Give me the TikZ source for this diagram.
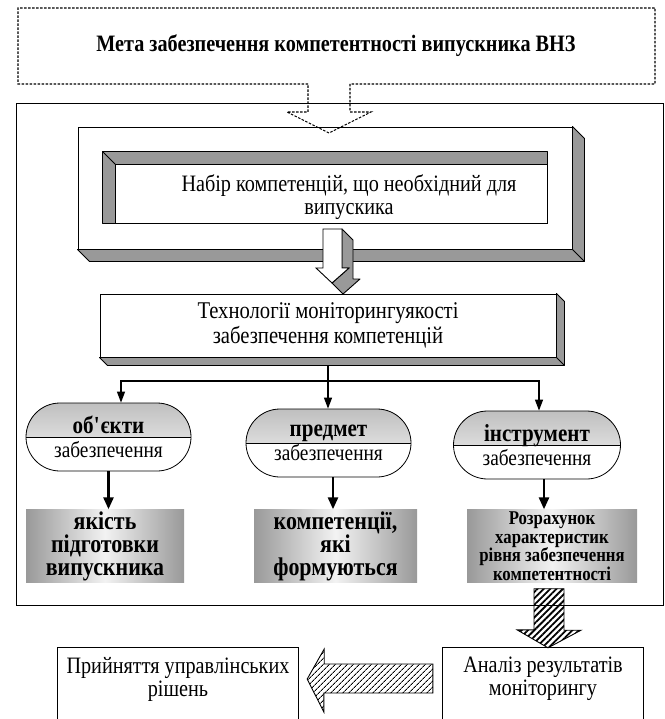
\documentclass[tikz,border=0pt]{standalone}
\usepackage{fontspec}
\setmainfont{Liberation Serif}[FakeStretch=0.86]
\usetikzlibrary{calc,arrows.meta,patterns.meta}

\begin{document}
\begin{tikzpicture}[x=1pt,y=-1pt,
    side/.style ={fill=gray!80, draw=black, line width=0.9pt, line join=round},
    face/.style ={draw=black, fill=white, line width=0.9pt, inner sep=0pt},
    txt/.style ={align=center, font=\fontsize{23.5}{23}\selectfont},
    oval/.style ={draw, line width=0.8pt, inner sep=0pt, minimum height=68pt,
        rounded corners=34pt, align=center, font=\fontsize{22.5}{24}\selectfont,
        path picture={
          \fill[sharp corners, top color=gray!50, bottom color=gray!5]
            (path picture bounding box.north west) rectangle (path picture bounding box.east);
          \draw[sharp corners, line width=0.8pt]
            (path picture bounding box.west) -- (path picture bounding box.east);}},
    result/.style ={left color=gray!80, right color=gray!80, middle color=gray!10,
        inner sep=0pt, minimum height=73pt, align=center,
        font=\bfseries\fontsize{25.5}{23}\selectfont},
    branch/.style ={line width=1.3pt, -{Triangle[length=11pt,width=8pt]}},
    down/.style ={line width=2.6pt, -{Triangle[length=12pt,width=10pt]}},
    hatch/.style ={draw=black, line width=0.9pt},
    callout/.style ={line width=1.1pt, dash pattern=on 2.5pt off 1.5pt}]
   \useasboundingbox (0,0) rectangle (664,719);

   % frame
   \draw[line width=1pt] (16,104) rectangle (663,605);

   % set of competences
   \node[face, minimum width=494pt, minimum height=122pt] (setframe) at (325,188) {};
   \filldraw[side] (setframe.north east) -- ++(12,12) -- ($(setframe.south east)+(12,12)$)
     -- ($(setframe.south west)+(12,12)$) -- (setframe.south west) -- (setframe.south east) -- cycle;
   \draw[line width=0.9pt] (setframe.south east) -- ++(12,12);
   \node[face, minimum width=444pt, minimum height=71pt] (setin) at (325,187.5) {};
   \filldraw[side] (setin.north west) -- (setin.north east) -- ++(0,13)
     -- ($(setin.north west)+(13,13)$) -- ($(setin.south west)+(13,0)$) -- (setin.south west) -- cycle;
   \draw[line width=0.9pt] (setin.north west) -- ++(13,13);
   \node[txt] (set) at (349,197) {Набір компетенцій, що необхідний для\\випускика};

   % 3d arrow
   \filldraw[side] (342,229) -- (353,240) -- (353,279) -- (360,279) -- (343,294) -- (332,283)
     -- (349,268) -- (342,268) -- cycle;
   \filldraw[face] (323,229) -- (342,229) -- (342,268) -- (349,268) -- (332,283) -- (316,268)
     -- (323,268) -- cycle;

   % technology
   \node[face, txt, font=\fontsize{24}{25}\selectfont, minimum width=456pt, minimum height=63pt] (tech) at (328,325.5)
     {Технології моніторингуякості\\забезпечення компетенцій};
   \filldraw[side] (tech.north east) -- ++(8,8) -- ($(tech.south east)+(8,8)$)
     -- ($(tech.south west)+(8,8)$) -- (tech.south west) -- (tech.south east) -- cycle;
   \draw[line width=0.9pt] (tech.south east) -- ++(8,8);

   % ovals
   \node[oval, minimum width=165pt] (obj)  at (108.5,437) {\textbf{\fontsize{24.5}{24}\selectfont об\textquotesingle єкти}\\забезпечення};
   \node[oval, minimum width=165pt] (subj) at (328.5,443) {\textbf{\fontsize{24.5}{24}\selectfont предмет}\\забезпечення};
   \node[oval, minimum width=167pt] (tool) at (537,445)   {\textbf{\fontsize{24.5}{24}\selectfont інструмент}\\забезпечення};

   \coordinate (br) at (328,381);
   \draw[line width=1.3pt] ([yshift=-8pt]tech.south) -- (br);
   \draw[branch] (br) -| ([xshift=12.5pt]obj.north);
   \draw[branch] (br) -- (br |- subj.north);
   \draw[branch] (br) -| ([xshift=2pt]tool.north);

   % results
   \node[result, minimum width=158pt] (qual) at (105,546) {якість\\підготовки\\випускника};
   \node[result, minimum width=163pt] (comp) at (335.5,546) {компетенції,\\які\\формуються};
   \node[result, minimum width=170pt, font=\bfseries\fontsize{19.5}{18.5}\selectfont] (rate) at (552,546)
     {Розрахунок\\характеристик\\рівня забезпечення\\компетентності};

   \draw[down] (obj.south) -- (obj.south |- qual.north);
   \draw[down] ([xshift=4.5pt]subj.south) -- ([xshift=4.5pt]subj.south |- comp.north);
   \draw[down] ([xshift=7pt]tool.south) -- ([xshift=7pt]tool.south |- rate.north);

   % analysis and decisions
   \node[txt, minimum width=240pt, minimum height=62pt] (dec) at (178,679) {Прийняття управлінських\\рішень};
   \draw[line width=0.8pt] ([yshift=-9pt]dec.south west) -- (dec.north west) -- (dec.north east) -- ([yshift=-9pt]dec.south east);
   \node[txt, minimum width=200pt, minimum height=62pt] (ana) at (543,679) {Аналіз результатів\\моніторингу};
   \draw[line width=0.8pt] ([yshift=-9pt]ana.south west) -- (ana.north west) -- (ana.north east) -- ([yshift=-9pt]ana.south east);

   \draw[hatch, pattern={Lines[angle=45,distance=4.5pt,line width=1.8pt]}]
     ([xshift=-18pt,yshift=-6pt]rate.south) -- ++(30,0) -- ++(0,41.5) -- ++(17,0)
     -- ([xshift=5pt]ana.north) -- ++(-31,-18) -- ++(17,0) -- cycle;
   \draw[hatch, pattern={Lines[angle=45,distance=4pt,line width=1pt]}]
     ([xshift=-10pt,yshift=15pt]ana.west) -- ++(0,29) -- ++(-109,0) -- ++(0,19)
     -- ([xshift=9pt]dec.east) -- ++(17,-30) -- ++(0,15) -- cycle;

   % goal
   \node[font=\bfseries\fontsize{23.5}{24}\selectfont] (goal) at (336,46) {Мета забезпечення компетентності випускника ВНЗ};
   \draw[callout] (308,84) -- (18,84) -- (18,8) -- (655,8) -- (655,84) -- (350,84) -- (350,112)
     -- (371,112) -- (329,133) -- (287,112) -- (308,112) -- cycle;
 \end{tikzpicture}
\end{document}
